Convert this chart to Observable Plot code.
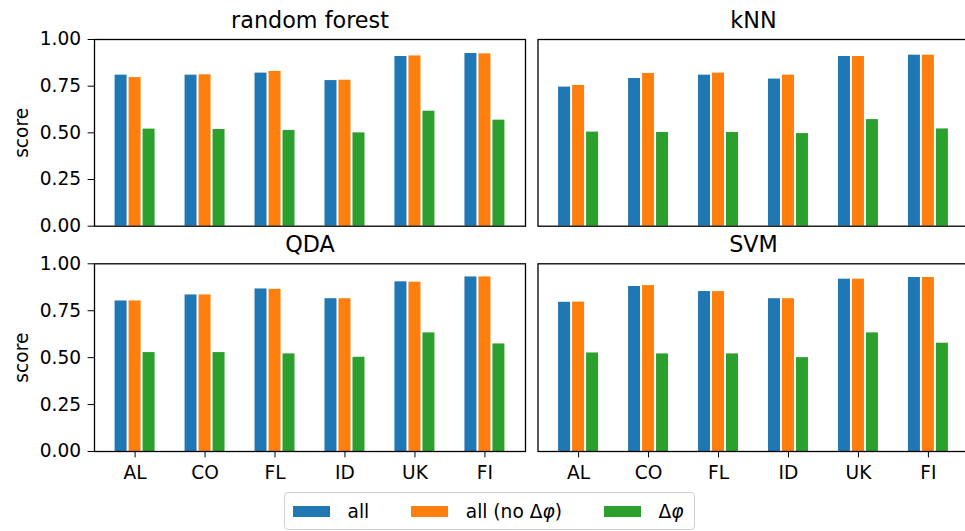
<!DOCTYPE html>
<html>
<head>
<meta charset="utf-8">
<script src="https://cdn.jsdelivr.net/npm/d3@7"></script>
<script src="https://cdn.jsdelivr.net/npm/@observablehq/plot@0.6"></script>
<style>
html, body { margin: 0; padding: 0; background: #fff; overflow: hidden; }
#fig { position: relative; width: 965px; height: 531px; overflow: hidden; font-family: "DejaVu Sans", sans-serif; }
#legend { position: absolute; left: 284px; top: 492px; width: 411px; height: 38px; box-sizing: border-box;
  border: 1px solid #d0d0d0; border-radius: 4px; display: flex; align-items: center; padding-left: 8px;
  font-size: 18.6px; color: #000; }
#legend .item { display: flex; align-items: center; margin-right: 42px; }
#legend .item:last-child { margin-right: 0; }
#legend .sw { width: 37px; height: 11px; margin-right: 17.5px; }
</style>
</head>
<body>
<div id="fig"></div>
<script>
// ---- data ----
const categories = ["AL", "CO", "FL", "ID", "UK", "FI"];
const series = ["all", "all (no Δφ)", "Δφ"];
const colors = ["#1f77b4", "#ff7f0e", "#2ca02c"];
const models = ["random forest", "kNN", "QDA", "SVM"];
const yTicks = [0, 0.25, 0.5, 0.75, 1.0];

const rfAll    = [0.809, 0.809, 0.820, 0.780, 0.909, 0.925];
const rfNoDphi = [0.796, 0.811, 0.829, 0.782, 0.912, 0.923];
const rfDphi   = [0.520, 0.518, 0.513, 0.500, 0.616, 0.568];

const knnAll    = [0.745, 0.791, 0.809, 0.788, 0.909, 0.916];
const knnNoDphi = [0.754, 0.818, 0.820, 0.809, 0.909, 0.916];
const knnDphi   = [0.504, 0.502, 0.502, 0.496, 0.571, 0.521];

const qdaAll    = [0.802, 0.834, 0.866, 0.814, 0.904, 0.930];
const qdaNoDphi = [0.802, 0.834, 0.864, 0.814, 0.902, 0.930];
const qdaDphi   = [0.527, 0.527, 0.520, 0.502, 0.632, 0.573];

const svmAll    = [0.795, 0.879, 0.852, 0.814, 0.918, 0.927];
const svmNoDphi = [0.796, 0.884, 0.852, 0.814, 0.918, 0.927];
const svmDphi   = [0.525, 0.520, 0.520, 0.500, 0.632, 0.577];

const modelValues = [
  [rfAll, rfNoDphi, rfDphi],
  [knnAll, knnNoDphi, knnDphi],
  [qdaAll, qdaNoDphi, qdaDphi],
  [svmAll, svmNoDphi, svmDphi]
];

// ---- layout ----
const barW = 0.2;
const n = categories.length;
const lo = -1.5 * barW, hi = (n - 1) + 1.5 * barW;
const pad = 0.05 * (hi - lo);

const panels = [
  {left: 0,   top: 0,   width: 531, height: 240, mL: 94,  mR: 6,   mT: 39,   mB: 14.3, showY: true,  showX: false, titleDy: -12},
  {left: 531, top: 0,   width: 440, height: 240, mL: 6.5, mR: 2.5, mT: 39,   mB: 14.3, showY: false, showX: false, titleDy: -12},
  {left: 0,   top: 240, width: 531, height: 250, mL: 94,  mR: 6,   mT: 23.3, mB: 39,   showY: true,  showX: true,  titleDy: -11.7},
  {left: 531, top: 240, width: 440, height: 250, mL: 6.5, mR: 2.5, mT: 23.3, mB: 39,   showY: false, showX: true,  titleDy: -11.7}
];

const fig = document.getElementById("fig");

models.forEach((title, mi) => {
  const p = panels[mi];
  const vals = modelValues[mi];
  const rows = categories.flatMap((c, ci) => series.map((s, si) => ({c, ci, s, si, v: vals[si][ci]})));
  const marks = [
    Plot.rectY(rows, {
      x1: d => d.ci + (d.si - 1) * barW - barW / 2,
      x2: d => d.ci + (d.si - 1) * barW + barW / 2,
      y1: 0, y2: "v", fill: "s", insetLeft: 1, insetRight: 1
    }),
    Plot.frame({stroke: "#000", strokeWidth: 1.3}),
    Plot.text([title], {frameAnchor: "top", lineAnchor: "bottom", dy: p.titleDy, fontSize: 22.3, fill: "#000"})
  ];
  if (p.showY) {
    marks.push(Plot.text(["score"], {frameAnchor: "left", rotate: -90, lineAnchor: "bottom", textAnchor: "middle", dx: -67, fontSize: 18.6, fill: "#000"}));
  }
  const svg = Plot.plot({
    width: p.width, height: p.height,
    marginLeft: p.mL, marginRight: p.mR, marginTop: p.mT, marginBottom: p.mB,
    style: {position: "absolute", left: p.left + "px", top: p.top + "px", fontFamily: "DejaVu Sans", fontSize: "18.6px",
            background: "transparent", maxWidth: "none", overflow: "visible", color: "#000"},
    x: {domain: [lo - pad, hi + pad], axis: p.showX ? "bottom" : null, ticks: d3.range(n),
        tickFormat: i => categories[i], tickSize: 6.4, tickPadding: 8.3, label: null},
    y: {domain: [0, 1], axis: p.showY ? "left" : null, ticks: yTicks, tickFormat: ".2f",
        tickSize: 6.4, tickPadding: 7, label: null},
    color: {domain: series, range: colors},
    marks
  });
  fig.appendChild(svg);
});

// ---- legend ----
const legend = d3.select(fig).append("div").attr("id", "legend");
const items = legend.selectAll(".item").data(series).join("div").attr("class", "item");
items.append("div").attr("class", "sw").style("background", (d, i) => colors[i]);
items.append("span").html(d => d.replace("φ", "<i>φ</i>"));
</script>
</body>
</html>
